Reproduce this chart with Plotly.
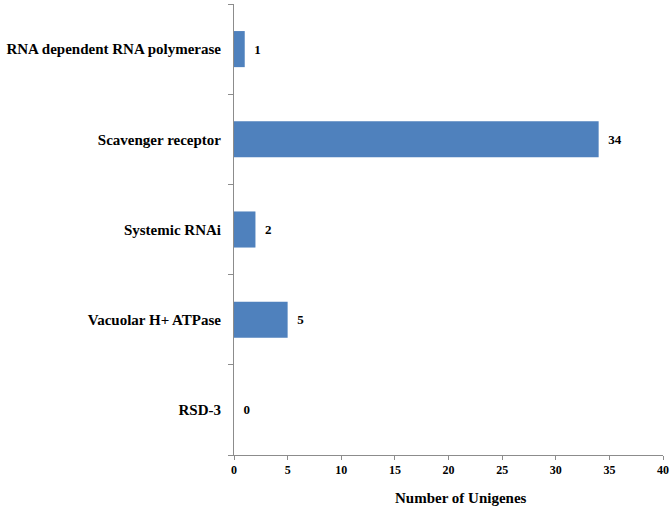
import plotly.graph_objects as go

categories = ["RNA dependent RNA polymerase", "Scavenger receptor", "Systemic RNAi",
              "Vacuolar H+ ATPase", "RSD-3"]
unigenes = [1, 34, 2, 5, 0]
x_ticks = [0, 5, 10, 15, 20, 25, 30, 35, 40]

font = "Liberation Serif"

fig = go.Figure(go.Bar(
    x=unigenes,
    y=categories,
    orientation="h",
    marker=dict(color="#4F81BD", line=dict(width=0)),
    text=[f"\u2002<b>{v}</b>" for v in unigenes],
    textposition="outside",
    textfont=dict(family=font, size=13, color="black"),
    cliponaxis=False,
))

fig.update_layout(
    width=672, height=510,
    margin={"l": 234, "r": 9, "t": 4, "b": 55},
    plot_bgcolor="white", paper_bgcolor="white",
    bargap=0.6,
    showlegend=False,
    font=dict(family=font, color="black"),
)
fig.update_xaxes(
    range=[0, 40], showgrid=False, zeroline=False,
    tickvals=x_ticks, ticktext=[f"<b>{t}</b>" for t in x_ticks],
    showline=True, linecolor="#8c8c8c", linewidth=1,
    ticks="outside", ticklen=4, tickcolor="#8c8c8c",
    tickfont=dict(family=font, size=12, color="black"),
    automargin=False,
)
fig.update_yaxes(
    autorange="reversed", showgrid=False,
    tickvals=categories, ticktext=[f"<b>{c}</b>" for c in categories],
    showline=True, linecolor="#8c8c8c", linewidth=1,
    ticks="outside", ticklen=5, tickcolor="#8c8c8c", tickson="boundaries",
    tickfont=dict(family=font, size=15, color="black"),
    ticklabelstandoff=9,
    automargin=False,
)
fig.add_annotation(
    text="<b>Number of Unigenes</b>", xref="paper", yref="paper",
    x=0.53, y=0, yshift=-43, yanchor="middle", showarrow=False,
    font=dict(family=font, size=15, color="black"),
)

# drop the browser's default body margin so the figure sits at the page corner
fig.write_html("out.html", config={"displayModeBar": False},
               post_script="document.body.style.margin = '0';")
